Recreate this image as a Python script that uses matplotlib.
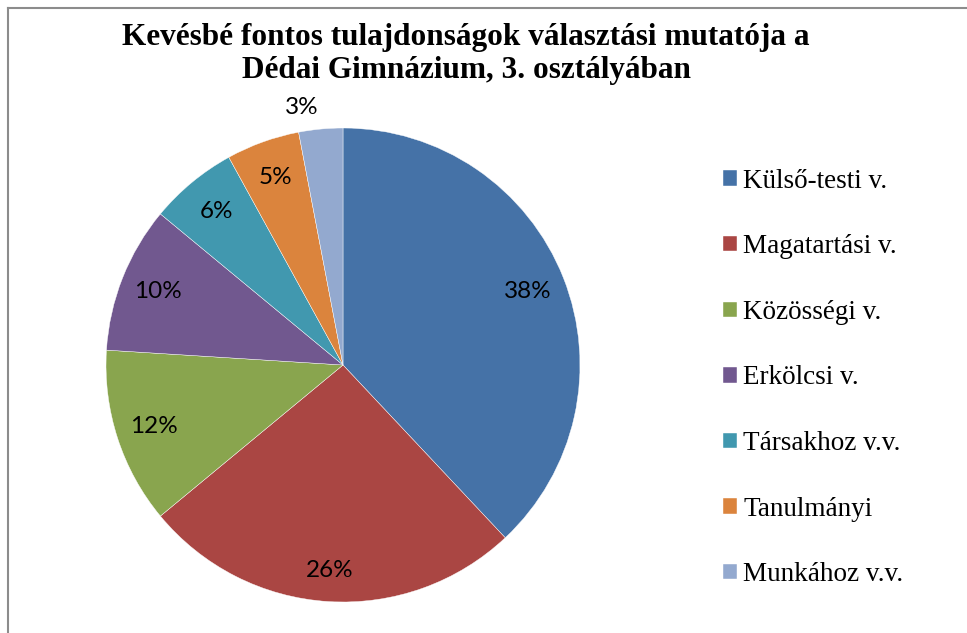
import matplotlib
matplotlib.use("Agg")
import matplotlib.pyplot as plt
from matplotlib.lines import Line2D
import numpy as np

categories = ["Külső-testi v.", "Magatartási v.", "Közösségi v.", "Erkölcsi v.",
              "Társakhoz v.v.", "Tanulmányi", "Munkához v.v."]
values = [38, 26, 12, 10, 6, 5, 3]
colors = ["#4572A7", "#AA4643", "#89A54E", "#71588F", "#4198AF", "#DB843D", "#93A9CF"]
title = "Kevésbé fontos tulajdonságok választási mutatója a\nDédai Gimnázium, 3. osztályában"

W, H = 967, 633
fig = plt.figure(figsize=(W / 100, H / 100), dpi=100)

# outer frame (only left and top visible)
fig.add_artist(Line2D([8 / W, 8 / W], [0, 1 - 8 / H], transform=fig.transFigure,
                      color="#8c8c8c", lw=1.5))
fig.add_artist(Line2D([8 / W, 1], [1 - 8 / H, 1 - 8 / H], transform=fig.transFigure,
                      color="#8c8c8c", lw=1.5))

cx, cy, r = 343, 365, 237
ax = fig.add_axes([(cx - r) / W, (H - cy - r) / H, 2 * r / W, 2 * r / H])
wedges, texts, autotexts = ax.pie(values, colors=colors, startangle=90, counterclock=False,
                                  radius=1, autopct="%1.0f%%", pctdistance=0.84,
                                  wedgeprops=dict(edgecolor="white", linewidth=0.3),
                                  textprops=dict(fontsize=17.5, family=["Lato", "DejaVu Sans"]))
ax.set_xlim(-1, 1)
ax.set_ylim(-1, 1)
ax.set_aspect("equal")
ax.axis("off")

# small last slice label outside
w = wedges[-1]
ang = np.deg2rad((w.theta1 + w.theta2) / 2)
autotexts[-1].set_position((1.09 * np.cos(ang) - 0.07, 1.09 * np.sin(ang)))
# 26% label sits a bit lower in the reference
w = wedges[1]
ang = np.deg2rad((w.theta1 + w.theta2) / 2)
autotexts[1].set_position((0.87 * np.cos(ang), 0.87 * np.sin(ang)))

fig.text(466 / W, 1 - 54 / H, title, ha="center", va="center", fontsize=22.5,
         fontweight="bold", family="Liberation Serif", linespacing=1.2)

fig.legend(wedges, categories, loc="center left", bbox_to_anchor=(723 / W, 1 - 378 / H),
           frameon=False, prop=dict(family="Liberation Serif", size=19.5),
           handlelength=0.5, handleheight=0.5, handletextpad=0.25, labelspacing=1.5,
           borderaxespad=0, borderpad=0)

fig.savefig("out.png", dpi=100)
